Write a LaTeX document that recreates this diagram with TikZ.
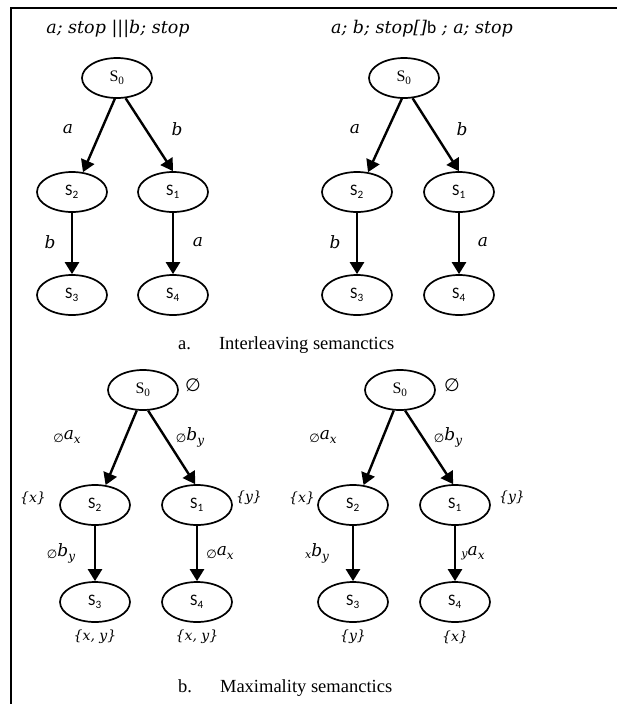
\documentclass[tikz,border=0pt]{standalone}
\usepackage{fontspec}
\setmainfont{Liberation Serif}
\newfontfamily\statefont{Carlito}
\newfontfamily\itfont{DejaVu Serif}
\newfontfamily\symfont{DejaVu Sans}
\usetikzlibrary{shapes.geometric,arrows.meta}

\tikzset{
  state/.style={ellipse, draw, line width=1.7pt, minimum width=70pt,
    minimum height=40pt, inner sep=0pt, font=\fontsize{16}{19}\selectfont},
  arr/.style={line width=2.4pt, -{Triangle[width=14pt,length=12pt]}},
  lbl/.style={inner sep=0pt, font=\itfont\itshape\fontsize{17}{20}\selectfont},
  setlbl/.style={inner sep=0pt, font=\itfont\itshape\fontsize{14}{17}\selectfont},
  heading/.style={inner sep=0pt, font=\itfont\itshape\fontsize{17.5}{20}\selectfont},
  caption/.style={inner sep=0pt, font=\fontsize{18.5}{22}\selectfont},
}
\newcommand{\sz}{S\textsubscript{0}}
\newcommand{\sn}[1]{{\statefont S\textsubscript{#1}}}
\newcommand{\emp}{{\symfont\upshape\fontsize{18}{18}\selectfont ∅}}
\newcommand{\smemp}{{\symfont\upshape\fontsize{12}{12}\selectfont ∅}}
% action with a left subscript (its condition) and a right subscript
\newcommand{\act}[3]{\raisebox{-2.5pt}{\fontsize{11}{11}\selectfont #1}#2\raisebox{-4pt}{\fontsize{12}{12}\selectfont #3}}

\begin{document}
\begin{tikzpicture}[x=1pt,y=-1pt]
\useasboundingbox (0,0) rectangle (617,704);

% frame
\draw[line width=2.4pt] (617,8) -- (11,8) -- (11,704);

% ---------- a. interleaving ----------
\node[heading] (ha) at (118,29) {a; stop |||b; stop};
\node[heading] (hb) at (422,29) {a; b; stop[]{\statefont\upshape b} ; a; stop};

% left tree
\node[state] (a0) at (117,78) {\sz};
\node[state] (a2) at (72,192) {\sn{2}};
\node[state] (a1) at (173,192) {\sn{1}};
\node[state] (a3) at (72,295) {\sn{3}};
\node[state] (a4) at (173,295) {\sn{4}};
\draw[arr] (a0.-96) -- (a2.61);
\draw[arr] (a0.-67) -- (a1.90);
\draw[arr] (a2) -- (a3);
\draw[arr] (a1) -- (a4);
\node[lbl] (la1) at (68,129) {a};
\node[lbl] (lb1) at (177,129) {b};
\node[lbl] (lb2) at (50,242) {b};
\node[lbl] (la2) at (198,242) {a};

% right tree
\node[state] (b0) at (404,78) {\sz};
\node[state] (b2) at (357,192) {\sn{2}};
\node[state] (b1) at (459,192) {\sn{1}};
\node[state] (b3) at (357,295) {\sn{3}};
\node[state] (b4) at (459,295) {\sn{4}};
\draw[arr] (b0.-96) -- (b2.61);
\draw[arr] (b0.-67) -- (b1.90);
\draw[arr] (b2) -- (b3);
\draw[arr] (b1) -- (b4);
\node[lbl] (ra1) at (355,129) {a};
\node[lbl] (rb1) at (462,129) {b};
\node[lbl] (rb2) at (335,242) {b};
\node[lbl] (ra2) at (483,242) {a};

\node[caption, anchor=west] (capa) at (178,345) {a.\hspace{28pt}Interleaving semanctics};

% ---------- b. maximality ----------
% left tree
\node[state] (c0) at (143,390) {\sz};
\node[state] (c2) at (95,505) {\sn{2}};
\node[state] (c1) at (197,505) {\sn{1}};
\node[state] (c3) at (95,602) {\sn{3}};
\node[state] (c4) at (197,602) {\sn{4}};
\draw[arr] (c0.-107) -- (c2.62);
\draw[arr] (c0.-76) -- (c1.95);
\draw[arr] (c2) -- (c3);
\draw[arr] (c1) -- (c4);
\node[lbl] (cs0) at (193,385) {\emp};
\node[lbl] (cax) at (67,437) {\act{\smemp}{a}{x}};
\node[lbl] (cby) at (190,437) {\act{\smemp}{b}{y}};
\node[setlbl] (cs2) at (33,498) {\{x\}};
\node[setlbl] (cs1) at (249,498) {\{y\}};
\node[lbl] (cby2) at (61,553) {\act{\smemp}{b}{y}};
\node[lbl] (cax2) at (220,553) {\act{\smemp}{a}{x}};
\node[setlbl] (cs3) at (95,637) {\{x, y\}};
\node[setlbl] (cs4) at (197,637) {\{x, y\}};

% right tree
\node[state] (d0) at (400,390) {\sz};
\node[state] (d2) at (353,505) {\sn{2}};
\node[state] (d1) at (455,505) {\sn{1}};
\node[state] (d3) at (353,602) {\sn{3}};
\node[state] (d4) at (455,602) {\sn{4}};
\draw[arr] (d0.-107) -- (d2.62);
\draw[arr] (d0.-76) -- (d1.95);
\draw[arr] (d2) -- (d3);
\draw[arr] (d1) -- (d4);
\node[lbl] (ds0) at (452,385) {\emp};
\node[lbl] (dax) at (323,437) {\act{\smemp}{a}{x}};
\node[lbl] (dby) at (448,437) {\act{\smemp}{b}{y}};
\node[setlbl] (ds2) at (302,498) {\{x\}};
\node[setlbl] (ds1) at (512,498) {\{y\}};
\node[lbl] (dby2) at (317,553) {\act{x}{b}{y}};
\node[lbl] (dax2) at (473,553) {\act{y}{a}{x}};
\node[setlbl] (ds3) at (353,637) {\{y\}};
\node[setlbl] (ds4) at (455,637) {\{x\}};

\node[caption, anchor=west] (capb) at (178,688) {b.\hspace{28pt}Maximality semanctics};
\end{tikzpicture}
\end{document}
